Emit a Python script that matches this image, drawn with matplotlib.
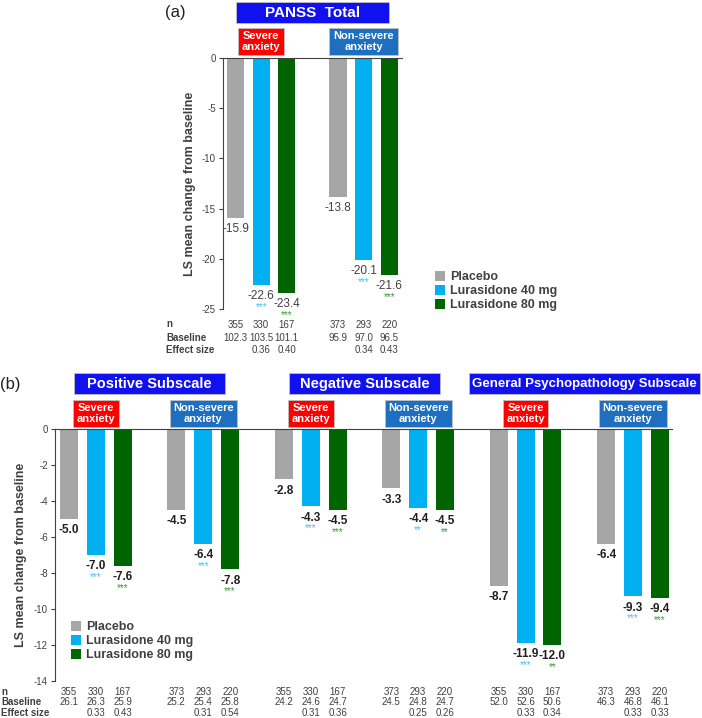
import matplotlib
matplotlib.use("Agg")
import matplotlib.pyplot as plt
from matplotlib.patches import Rectangle
from matplotlib.transforms import blended_transform_factory
from matplotlib import font_manager

# --- data ---
arms = ["Placebo", "Lurasidone 40 mg", "Lurasidone 80 mg"]
colors = ["#A6A6A6", "#00B0F0", "#006400"]
star_colors = ["#A6A6A6", "#3FC3F5", "#3A9A3A"]

# (a) PANSS total, groups: severe, non-severe
a_values = [[-15.9, -22.6, -23.4], [-13.8, -20.1, -21.6]]
a_stars = [["", "***", "***"], ["", "***", "***"]]
a_n = [[355, 330, 167], [373, 293, 220]]
a_baseline = [["102.3", "103.5", "101.1"], ["95.9", "97.0", "96.5"]]
a_effect = [["", "0.36", "0.40"], ["", "0.34", "0.43"]]

# (b) subscales, groups: pos sev, pos non, neg sev, neg non, gen sev, gen non
subscales = ["Positive Subscale", "Negative Subscale", "General Psychopathology Subscale"]
b_values = [[-5.0, -7.0, -7.6], [-4.5, -6.4, -7.8],
            [-2.8, -4.3, -4.5], [-3.3, -4.4, -4.5],
            [-8.7, -11.9, -12.0], [-6.4, -9.3, -9.4]]
b_stars = [["", "***", "***"], ["", "***", "***"],
           ["", "***", "***"], ["", "**", "**"],
           ["", "***", "**"], ["", "***", "***"]]
b_n = [[355, 330, 167], [373, 293, 220]] * 3
b_baseline = [["26.1", "26.3", "25.9"], ["25.2", "25.4", "25.8"],
              ["24.2", "24.6", "24.7"], ["24.5", "24.8", "24.7"],
              ["52.0", "52.6", "50.6"], ["46.3", "46.8", "46.1"]]
b_effect = [["", "0.33", "0.43"], ["", "0.31", "0.54"],
            ["", "0.31", "0.36"], ["", "0.25", "0.26"],
            ["", "0.33", "0.34"], ["", "0.33", "0.33"]]

# fonts
names = {f.name for f in font_manager.fontManager.ttflist}
NARROW = ["Liberation Sans Narrow", "Liberation Sans"] if "Liberation Sans Narrow" in names else ["Liberation Sans"]
plt.rcParams["font.family"] = ["Liberation Sans", "DejaVu Sans"]

DARK = "#404040"
BLUE_BOX = "#1010F0"
RED_BOX = "#FF0000"
NS_BOX = "#1F6FC0"

fig = plt.figure(figsize=(7.02, 7.18), dpi=100)
axa = fig.add_axes([223/702, 1-309/718, 179/702, 251/718])
axb = fig.add_axes([55/702, 1-681/718, 617/702, 252/718])


def draw_panel(ax, values, stars, ns, bases, effs, ylim, yticks, xlim, lab_weight, lab_color, rows_y):
    tr = ax.get_xaxis_transform()
    for g, grp in enumerate(values):
        for i, v in enumerate(grp):
            x = 4*g + i
            ax.bar(x, v, width=0.67, color=colors[i], linewidth=0,
                   label=arms[i] if g == 0 else None)
            ax.annotate(f"{v:.1f}", (x, v), xytext=(0, -8), textcoords="offset points",
                        ha="center", va="center", fontsize=8.5, family=NARROW,
                        color=lab_color, fontweight=lab_weight)
            if stars[g][i]:
                ax.annotate(stars[g][i], (x, v), xytext=(0, -18), textcoords="offset points",
                            ha="center", va="baseline", fontsize=7, family=NARROW,
                            color=star_colors[i])
            ax.text(x, rows_y[0], str(ns[g][i]), transform=tr, ha="center", va="center",
                    fontsize=7, family=NARROW, color=DARK)
            ax.text(x, rows_y[1], bases[g][i], transform=tr, ha="center", va="center",
                    fontsize=7, family=NARROW, color=DARK)
            ax.text(x, rows_y[2], effs[g][i], transform=tr, ha="center", va="center",
                    fontsize=7, family=NARROW, color=DARK)
    ax.set_ylim(*ylim)
    ax.set_xlim(*xlim)
    ax.set_yticks(yticks)
    ax.set_yticklabels([str(t) for t in yticks], fontsize=7, color=DARK, family=NARROW)
    ax.tick_params(axis="y", length=3, color=DARK, pad=2)
    ax.set_xticks([])
    for s in ["right", "bottom"]:
        ax.spines[s].set_visible(False)
    for s in ["left", "top"]:
        ax.spines[s].set_color(DARK)
        ax.spines[s].set_linewidth(0.8)
    ax.set_ylabel("LS mean change from baseline", fontsize=9, fontweight="bold", color=DARK)


def box(ax, xc, w, y0, h, color, text, fs):
    tr = blended_transform_factory(ax.transData, ax.transAxes)
    ax.add_patch(Rectangle((xc - w/2, y0), w, h, transform=tr, facecolor=color,
                           edgecolor="#C0C0C0", linewidth=0.6, clip_on=False))
    ax.text(xc, y0 + h/2, text, transform=tr, ha="center", va="center", color="white",
            fontsize=fs, fontweight="bold", linespacing=1.05, clip_on=False)


# (a)
draw_panel(axa, a_values, a_stars, a_n, a_baseline, a_effect, (-25, 0),
           [0, -5, -10, -15, -20, -25], (-0.49, 6.5), "normal", DARK,
           [-0.062, -0.115, -0.163])
axa.yaxis.set_label_coords(-0.15, 0.5)
for g in range(2):
    if g == 0:
        box(axa, 4*g + 1, 1.8, 1.012, 0.108, RED_BOX, "Severe\nanxiety", 8)
    else:
        box(axa, 4*g + 1, 2.67, 1.012, 0.108, NS_BOX, "Non-severe\nanxiety", 8)
box(axa, 3, 6.0, 1.139, 0.084, BLUE_BOX, "PANSS  Total", 11)
fig.text(175/702, 1-13/718, "(a)", fontsize=12, ha="center", va="center", color="#202020")
axa.legend(loc="center left", bbox_to_anchor=(430/702, 1-291/718), bbox_transform=fig.transFigure,
           frameon=False, prop={"weight": "bold", "size": 9}, handlelength=0.8, handleheight=0.8,
           handletextpad=0.4, labelspacing=0.15, borderaxespad=0, labelcolor=DARK)
for lab, yy in zip(["n", "Baseline", "Effect size"], [324, 338, 350]):
    fig.text(166/702, 1-yy/718, lab, fontsize=7, fontweight="bold", family=NARROW,
             color=DARK, va="center", ha="left")

# (b)
draw_panel(axb, b_values, b_stars, b_n, b_baseline, b_effect, (-14, 0),
           [0, -2, -4, -6, -8, -10, -12, -14], (-0.52, 22.45), "bold", "#202020",
           [-0.044, -0.085, -0.127])
axb.yaxis.set_label_coords(-0.045, 0.5)
for g in range(6):
    if g % 2 == 0:
        box(axb, 4*g + 1, 1.7, 1.008, 0.107, RED_BOX, "Severe\nanxiety", 8)
    else:
        box(axb, 4*g + 1, 2.5, 1.008, 0.107, NS_BOX, "Non-severe\nanxiety", 8)
for k, name in enumerate(subscales):
    w = 8.6 if k == 2 else 5.6
    xc = 8*k + 3 + (0.2 if k == 2 else 0)
    box(axb, xc, w, 1.139, 0.083, BLUE_BOX, name, 10.5 if k < 2 else 9.5)
fig.text(10/702, 1-384/718, "(b)", fontsize=12, ha="center", va="center", color="#202020")
axb.legend(loc="center left", bbox_to_anchor=(66/702, 1-641/718), bbox_transform=fig.transFigure,
           frameon=False, prop={"weight": "bold", "size": 9}, handlelength=0.8, handleheight=0.8,
           handletextpad=0.4, labelspacing=0.15, borderaxespad=0, labelcolor=DARK)
for lab, yy in zip(["n", "Baseline", "Effect size"], [692, 702, 713]):
    fig.text(1/702, 1-yy/718, lab, fontsize=7, fontweight="bold", family=NARROW,
             color=DARK, va="center", ha="left")

fig.savefig("out.png", dpi=100)
